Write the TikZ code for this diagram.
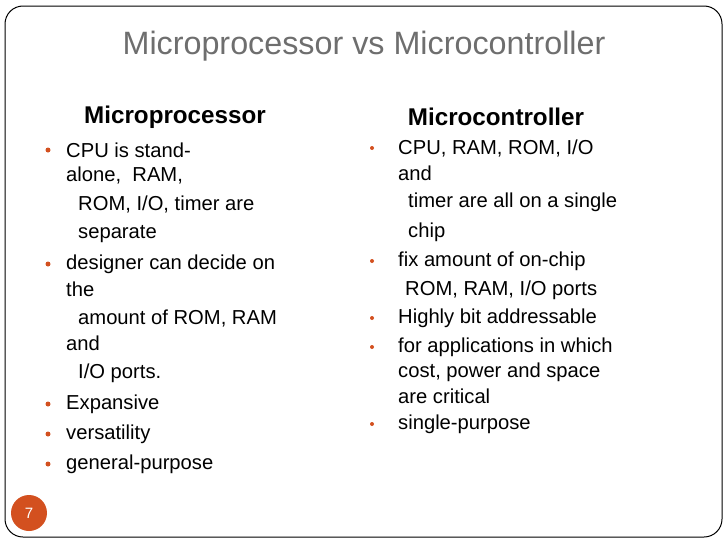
\documentclass[tikz,border=0pt]{standalone}
\usepackage{fontspec}
\setmainfont{Liberation Sans}
\definecolor{acc}{HTML}{D3501F}
\definecolor{ttl}{HTML}{6E6E6E}
\begin{document}
\begin{tikzpicture}[x=1pt,y=-1pt,
  txt/.style={anchor=west,inner sep=0pt,font=\fontsize{20.2}{22}\selectfont},
  hd/.style={inner sep=0pt,font=\bfseries\fontsize{24.2}{26}\selectfont},
  bul/.style={circle,fill=acc,inner sep=0pt,minimum size=5pt}]
\useasboundingbox (0,0) rectangle (728,546);
\draw[line width=1pt,rounded corners=18pt] (5,6) rectangle (722,537);
\node[inner sep=0pt,text=ttl,font=\fontsize{32.3}{34}\selectfont] (title) at (364,46) {Microprocessor vs Microcontroller};
\node[hd] (h1) at (175,117) {Microprocessor};
\node[hd] (h2) at (496,117) {Microcontroller};
% left column
\foreach \y in {150,264,404,434,464} \node[bul] at (48,\y) {};
\node[txt] (l1) at (66,150) {CPU is stand-};
\node[txt] (l2) at (66,175) {alone,\ \ RAM,};
\node[txt] (l3) at (78,204) {ROM, I/O, timer are};
\node[txt] (l4) at (78,234) {separate};
\node[txt] (l5) at (66,264) {designer can decide on};
\node[txt] (l6) at (66,289) {the};
\node[txt] (l7) at (78,318) {amount of ROM, RAM};
\node[txt] (l8) at (66,343) {and};
\node[txt] (l9) at (78,373) {I/O ports.};
\node[txt] (l10) at (66,404) {Expansive};
\node[txt] (l11) at (66,434) {versatility};
\node[txt] (l12) at (66,464) {general-purpose};
% right column
\foreach \y in {148,261,318,347,424} \node[bul,minimum size=4pt] at (372,\y) {};
\node[txt] (r1) at (398,148) {CPU, RAM, ROM, I/O};
\node[txt] (r2) at (398,173) {and};
\node[txt] (r3) at (408,202) {timer are all on a single};
\node[txt] (r4) at (408,232) {chip};
\node[txt] (r5) at (398,261) {fix amount of on-chip};
\node[txt] (r6) at (405,290) {ROM, RAM, I/O ports};
\node[txt] (r7) at (398,318) {Highly bit addressable};
\node[txt] (r8) at (398,347) {for applications in which};
\node[txt] (r9) at (398,372) {cost, power and space};
\node[txt] (r10) at (398,396) {are critical};
\node[txt] (r11) at (398,424) {single-purpose};
\node[circle,fill=acc,minimum size=36pt,inner sep=0pt,text=white,font=\fontsize{15}{17}\selectfont] (pg) at (29,513) {7};
\end{tikzpicture}
\end{document}
